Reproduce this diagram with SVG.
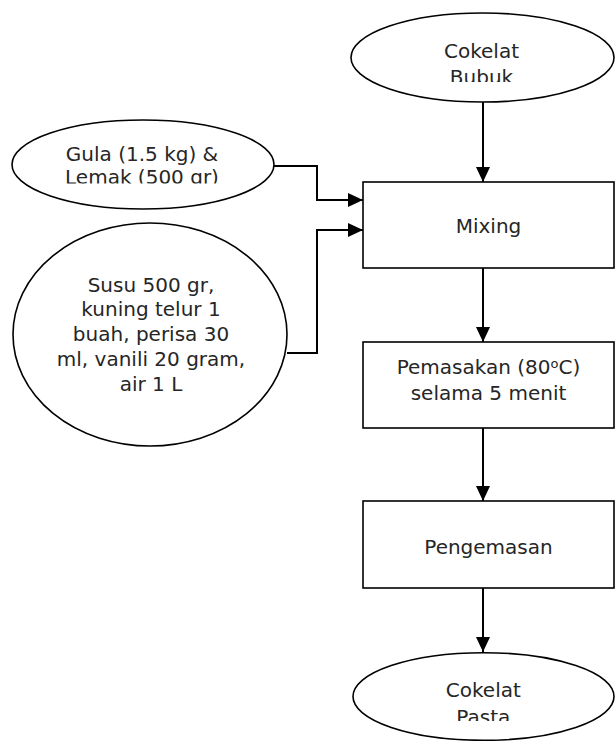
<svg xmlns="http://www.w3.org/2000/svg" width="615" height="741" viewBox="0 0 615 741">
<style>
.shape{fill:#fff;stroke:#000;stroke-width:1.6}
.lbl{font-family:"DejaVu Sans",sans-serif;font-size:20px;fill:#262626;text-anchor:middle}
.con{fill:none;stroke:#000;stroke-width:2;marker-end:url(#arr)}
</style>
<defs>
<marker id="arr" markerUnits="userSpaceOnUse" markerWidth="16" markerHeight="15" refX="15" refY="7" orient="auto">
<path d="M0,0 L15,7 L0,14 z" fill="#000"/>
</marker>
<clipPath id="cTop"><rect x="351" y="13" width="264" height="69"/></clipPath>
<clipPath id="cGula"><rect x="12" y="120" width="262" height="63.5"/></clipPath>
<clipPath id="cBot"><rect x="353" y="652" width="262" height="69"/></clipPath>
</defs>
<rect width="615" height="741" fill="#fff"/>
<g id="connectors">
<path class="con" d="M483,102 V182"/>
<path class="con" d="M274,166 H317 V200 H363"/>
<path class="con" d="M287,353 H317 V230 H363"/>
<path class="con" d="M483,268 V342"/>
<path class="con" d="M483,428 V501"/>
<path class="con" d="M483,588 V652"/>
</g>
<g id="cokelat-bubuk">
<ellipse class="shape" cx="482.5" cy="57.5" rx="131.5" ry="44.5"/>
<g clip-path="url(#cTop)">
<text class="lbl" x="481.5" y="57.5">Cokelat</text>
<text class="lbl" x="481.5" y="84">Bubuk</text>
</g>
</g>
<g id="gula-lemak">
<ellipse class="shape" cx="143" cy="164.5" rx="131" ry="44.5"/>
<g clip-path="url(#cGula)">
<text class="lbl" x="142" y="160.7">Gula (1.5 kg) &amp;</text>
<text class="lbl" x="142" y="184">Lemak (500 gr)</text>
</g>
</g>
<g id="susu">
<ellipse class="shape" cx="150" cy="334.5" rx="137" ry="111.5"/>
<text class="lbl" x="151" y="291.5">Susu 500 gr,</text>
<text class="lbl" x="151" y="316.3">kuning telur 1</text>
<text class="lbl" x="151" y="341">buah, perisa 30</text>
<text class="lbl" x="151" y="365.8">ml, vanili 20 gram,</text>
<text class="lbl" x="151" y="390.6">air 1 L</text>
</g>
<g id="mixing">
<rect class="shape" x="363" y="182" width="251" height="86"/>
<text class="lbl" x="488.5" y="233">Mixing</text>
</g>
<g id="pemasakan">
<rect class="shape" x="363" y="342" width="251" height="86"/>
<text class="lbl" x="488.5" y="374">Pemasakan (80<tspan font-size="13" dy="-6">o</tspan><tspan dy="6">C)</tspan></text>
<text class="lbl" x="488.5" y="400">selama 5 menit</text>
</g>
<g id="pengemasan">
<rect class="shape" x="363" y="501" width="251" height="87"/>
<text class="lbl" x="488.5" y="554">Pengemasan</text>
</g>
<g id="cokelat-pasta">
<ellipse class="shape" cx="483.5" cy="696.5" rx="130.5" ry="43.8"/>
<g clip-path="url(#cBot)">
<text class="lbl" x="483.3" y="697.3">Cokelat</text>
<text class="lbl" x="483.3" y="723.5">Pasta</text>
</g>
</g>
</svg>
